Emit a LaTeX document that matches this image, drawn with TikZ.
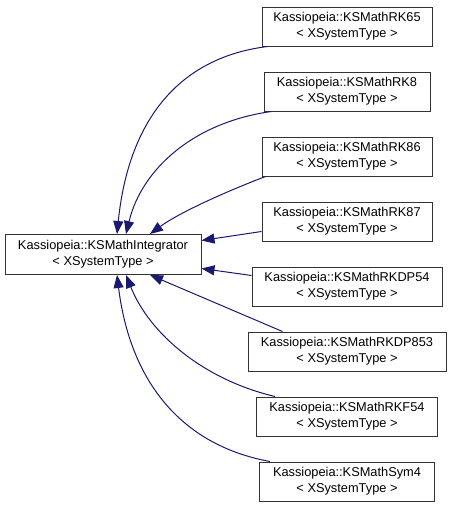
\documentclass[tikz,border=0pt]{standalone}
\usepackage{fontspec}
\setmainfont{Liberation Sans}
\usetikzlibrary{arrows.meta}
\definecolor{edgeblue}{RGB}{25,25,112}
\tikzset{
  cls/.style={draw=black!80, line width=1pt, fill=white, rectangle, inner sep=0pt,
    minimum height=39pt, align=center, font=\fontsize{12.8}{16}\selectfont},
  inh/.style={draw=edgeblue, line width=1pt,
    -{Triangle[length=13pt,width=10pt,fill=edgeblue]}}
}
\begin{document}
\begin{tikzpicture}[x=1pt,y=-1pt]
\useasboundingbox (0,0) rectangle (449,509);
\node[cls, minimum width=196pt, minimum height=40pt] (base) at (103,254.5) {Kassiopeia::KSMathIntegrator\\< XSystemType >};
\node[cls, minimum width=170pt] (rk65) at (347,26.5) {Kassiopeia::KSMathRK65\\< XSystemType >};
\node[cls, minimum width=166pt] (rk8) at (347,91.5) {Kassiopeia::KSMathRK8\\< XSystemType >};
\node[cls, minimum width=170pt] (rk86) at (347,156.5) {Kassiopeia::KSMathRK86\\< XSystemType >};
\node[cls, minimum width=170pt] (rk87) at (347,221.5) {Kassiopeia::KSMathRK87\\< XSystemType >};
\node[cls, minimum width=190pt] (rkdp54) at (347,286.5) {Kassiopeia::KSMathRKDP54\\< XSystemType >};
\node[cls, minimum width=198pt] (rkdp853) at (347,351.5) {Kassiopeia::KSMathRKDP853\\< XSystemType >};
\node[cls, minimum width=181pt] (rkf54) at (347,416.5) {Kassiopeia::KSMathRKF54\\< XSystemType >};
\node[cls, minimum width=175pt] (sym4) at (347,481.5) {Kassiopeia::KSMathSym4\\< XSystemType >};

\draw[inh] ([xshift=6pt]rk65.south west) .. controls (175,58) and (128,125) .. ([xshift=14pt]base.north);
\draw[inh] ([xshift=8pt]rk8.south west) .. controls (195,122) and (142,168) .. ([xshift=23pt]base.north);
\draw[inh] ([xshift=4pt]rk86.south west) .. controls (230,190) and (180,212) .. ([xshift=47pt]base.north);
\draw[inh] ([yshift=-10pt]rk87.west) -- ([yshift=14pt]base.east);
\draw[inh] ([yshift=11pt]rkdp54.west) -- ([yshift=-14pt]base.east);
\draw[inh] ([xshift=35pt]rkdp853.north west) -- ([xshift=47pt]base.south);
\draw[inh] ([xshift=19pt]rkf54.north west) .. controls (205,380) and (150,335) .. ([xshift=23pt]base.south);
\draw[inh] ([xshift=11pt]sym4.north west) .. controls (180,445) and (130,380) .. ([xshift=14pt]base.south);
\end{tikzpicture}
\end{document}
